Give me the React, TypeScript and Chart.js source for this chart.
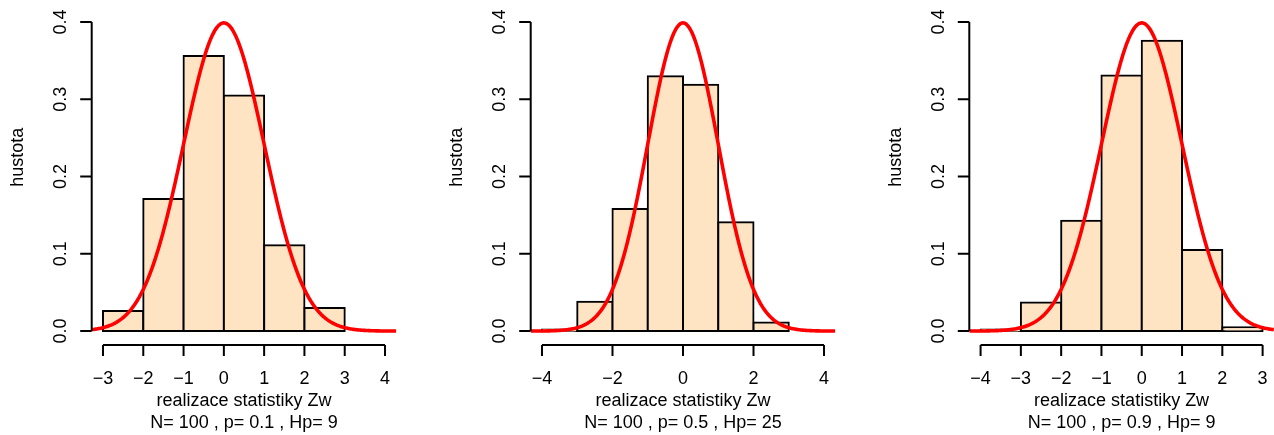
import React, { useEffect, useRef } from "react";
import { Chart, registerables } from "chart.js";

Chart.register(...registerables);

// ---- data ----
const binEdges1 = [-3, -2, -1, 0, 1, 2, 3];
const density1 = [0.026, 0.171, 0.356, 0.305, 0.111, 0.03];
const xTicks1 = [-3, -2, -1, 0, 1, 2, 3, 4];
const xLim1 = [-3, 4];

const binEdges2 = [-4, -3, -2, -1, 0, 1, 2, 3];
const density2 = [0.002, 0.038, 0.158, 0.33, 0.319, 0.141, 0.011];
const xTicks2 = [-4, -2, 0, 2, 4];
const xLim2 = [-4, 4];

const binEdges3 = [-4, -3, -2, -1, 0, 1, 2, 3];
const density3 = [0.002, 0.037, 0.143, 0.331, 0.376, 0.105, 0.005];
const xTicks3 = [-4, -3, -2, -1, 0, 1, 2, 3];
const xLim3 = [-4, 3];

const yTicks = [0, 0.1, 0.2, 0.3, 0.4];
const yTickLabels = ["0.0", "0.1", "0.2", "0.3", "0.4"];
const yLim = [0, 0.45];

const subtitles = [
  "N= 100 , p= 0.1 , Hp= 9",
  "N= 100 , p= 0.5 , Hp= 25",
  "N= 100 , p= 0.9 , Hp= 9",
];
const xLabel = "realizace statistiky Zw";
const yLabel = "hustota";

// density curve parameters (standard normal)
const curveMean = 0;
const curveSd = 1;

// ---- layout ----
const W = 1274;
const H = 435;
const plotLefts = [91.7, 530.7, 969.3];
const plotWidth = 304.6;
const plotBottom = 345;
const pxPerY = 772.5;
const FONT = "18px 'Liberation Sans', Arial, Helvetica, sans-serif";
const BAR_FILL = "#FFE4C4";

const panels = [
  { edges: binEdges1, dens: density1, ticks: xTicks1, lim: xLim1, sub: subtitles[0] },
  { edges: binEdges2, dens: density2, ticks: xTicks2, lim: xLim2, sub: subtitles[1] },
  { edges: binEdges3, dens: density3, ticks: xTicks3, lim: xLim3, sub: subtitles[2] },
];

function fmt(v: number): string {
  return v < 0 ? "\u2212" + Math.abs(v) : String(v);
}

function dnorm(x: number): number {
  const z = (x - curveMean) / curveSd;
  return Math.exp(-0.5 * z * z) / (curveSd * Math.sqrt(2 * Math.PI));
}

const rAxesPlugin = {
  id: "rAxes",
  afterDraw(chart: any, _args: any, opts: any) {
    const ctx = chart.ctx as CanvasRenderingContext2D;
    const xs = chart.scales.x;
    const ys = chart.scales.y;
    const area = chart.chartArea;
    const p = opts.panel;
    ctx.save();
    ctx.strokeStyle = "#000";
    ctx.fillStyle = "#000";
    ctx.lineWidth = 2;
    ctx.font = FONT;

    // y axis
    const yTop = ys.getPixelForValue(yTicks[yTicks.length - 1]);
    const yBot = ys.getPixelForValue(yTicks[0]);
    ctx.beginPath();
    ctx.moveTo(area.left, yBot);
    ctx.lineTo(area.left, yTop);
    for (const t of yTicks) {
      const py = ys.getPixelForValue(t);
      ctx.moveTo(area.left, py);
      ctx.lineTo(area.left - 11.5, py);
    }
    ctx.stroke();
    yTicks.forEach((t, i) => {
      const py = ys.getPixelForValue(t);
      ctx.save();
      ctx.translate(area.left - 25.7, py);
      ctx.rotate(-Math.PI / 2);
      ctx.textAlign = "center";
      ctx.textBaseline = "alphabetic";
      ctx.fillText(yTickLabels[i], 0, 0);
      ctx.restore();
    });

    // y label
    ctx.save();
    ctx.translate(area.left - 68.4, ys.getPixelForValue((yLim[0] + yLim[1]) / 2));
    ctx.rotate(-Math.PI / 2);
    ctx.textAlign = "center";
    ctx.textBaseline = "alphabetic";
    ctx.fillText(yLabel, 0, 0);
    ctx.restore();

    // x axis
    const axY = area.bottom;
    const x0 = xs.getPixelForValue(p.ticks[0]);
    const x1 = xs.getPixelForValue(p.ticks[p.ticks.length - 1]);
    ctx.beginPath();
    ctx.moveTo(x0, axY);
    ctx.lineTo(x1, axY);
    for (const t of p.ticks) {
      const px = xs.getPixelForValue(t);
      ctx.moveTo(px, axY);
      ctx.lineTo(px, axY + 11);
    }
    ctx.stroke();
    ctx.textAlign = "center";
    ctx.textBaseline = "alphabetic";
    for (const t of p.ticks) {
      ctx.fillText(fmt(t), xs.getPixelForValue(t), 384);
    }
    const cx = (area.left + area.right) / 2;
    ctx.fillText(xLabel, cx, 405.7);
    ctx.fillText(p.sub, cx, 428);
    ctx.restore();
  },
};

function buildChart(canvas: HTMLCanvasElement, i: number): Chart {
  const p = panels[i];
  const range = p.lim[1] - p.lim[0];
  const xMin = p.lim[0] - 0.04 * range;
  const xMax = p.lim[1] + 0.04 * range;
  const yMin = yLim[0] - 0.04 * (yLim[1] - yLim[0]);
  const yMax = yMin + plotBottom / pxPerY;

  const bars = p.dens.map((d, k) => ({ x: (p.edges[k] + p.edges[k + 1]) / 2, y: d }));
  const curve: { x: number; y: number }[] = [];
  const n = 300;
  for (let k = 0; k <= n; k++) {
    const x = xMin + ((xMax - xMin) * k) / n;
    curve.push({ x, y: dnorm(x) });
  }

  const left = plotLefts[i];
  return new Chart(canvas, {
    type: "bar",
    data: {
      datasets: [
        {
          type: "line",
          data: curve,
          borderColor: "#FF0000",
          borderWidth: 3.6,
          pointRadius: 0,
          tension: 0,
          fill: false,
          order: 0,
        } as any,
        {
          type: "bar",
          data: bars,
          backgroundColor: BAR_FILL,
          borderColor: "#000",
          borderWidth: 2,
          inflateAmount: 1,
          borderSkipped: false,
          barPercentage: 1,
          categoryPercentage: 1,
          order: 1,
        } as any,
      ],
    },
    options: {
      responsive: false,
      maintainAspectRatio: false,
      animation: false,
      devicePixelRatio: 1,
      layout: {
        padding: { left: left, right: W - (left + plotWidth), top: 0, bottom: H - plotBottom },
      },
      plugins: {
        legend: { display: false },
        tooltip: { enabled: false },
        rAxes: { panel: p },
      } as any,
      scales: {
        x: {
          type: "linear",
          min: xMin,
          max: xMax,
          display: false,
          offset: false,
          ticks: { stepSize: 1, includeBounds: false },
        },
        y: { type: "linear", min: yMin, max: yMax, display: false },
      },
    },
    plugins: [rAxesPlugin],
  });
}

export default function App() {
  const r0 = useRef<HTMLCanvasElement>(null);
  const r1 = useRef<HTMLCanvasElement>(null);
  const r2 = useRef<HTMLCanvasElement>(null);

  useEffect(() => {
    const refs = [r0, r1, r2];
    const charts = refs.map((r, i) => buildChart(r.current as HTMLCanvasElement, i));
    return () => charts.forEach((c) => c.destroy());
  }, []);

  const cs: React.CSSProperties = { position: "absolute", left: 0, top: 0, width: W, height: H };
  return (
    <div style={{ position: "absolute", left: 0, top: 0, width: W, height: H, background: "#fff" }}>
      <canvas ref={r0} width={W} height={H} style={cs} />
      <canvas ref={r1} width={W} height={H} style={cs} />
      <canvas ref={r2} width={W} height={H} style={cs} />
    </div>
  );
}
